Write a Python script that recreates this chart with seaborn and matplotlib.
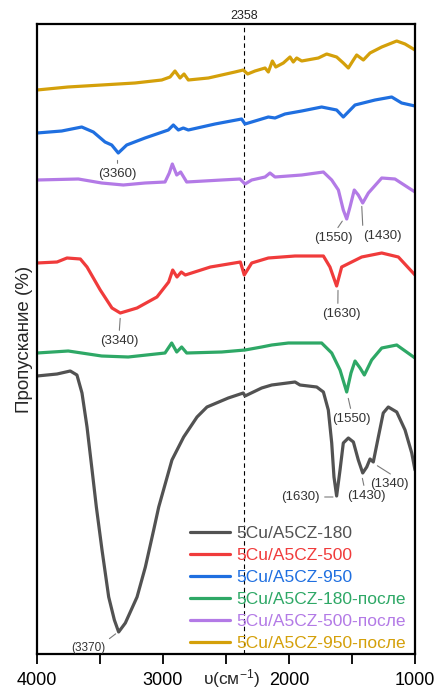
import numpy as np
import pandas as pd
import matplotlib
matplotlib.use('Agg')
import matplotlib.pyplot as plt
import matplotlib.transforms as mtransforms
from matplotlib.ticker import MultipleLocator
import seaborn as sns

# ---------------- data ----------------
labels = ['5Cu/A5CZ-180', '5Cu/A5CZ-500', '5Cu/A5CZ-950',
          '5Cu/A5CZ-180-после', '5Cu/A5CZ-500-после', '5Cu/A5CZ-950-после']
colors = ['#525252', '#f03b3b', '#1f6fe0', '#2ea866', '#b37ae6', '#d4a00a']

wn_180 = [4000, 3841, 3736, 3683, 3643, 3603, 3563, 3529, 3484, 3431, 3386, 3352, 3299, 3206,
          3140, 3074, 3034, 2929, 2836, 2730, 2651, 2482, 2363, 2349, 2217, 2137, 1952, 1913,
          1780, 1727, 1688, 1661, 1643, 1622, 1595, 1569, 1529, 1489, 1450, 1415, 1383, 1357,
          1331, 1291, 1252, 1212, 1145, 1079, 1026, 1000]
t_180 = [279, 281, 284, 280, 262, 228, 185, 148, 105, 58, 35, 23, 32, 58,
         88, 125, 148, 195, 218, 238, 248, 257, 262, 259, 267, 270, 273, 270,
         268, 263, 245, 212, 178, 159, 185, 212, 217, 213, 195, 182, 188, 196,
         193, 218, 242, 248, 243, 225, 202, 185]

wn_500 = [4000, 3841, 3762, 3656, 3603, 3498, 3405, 3339, 3206, 3048, 2955, 2923, 2889, 2855,
          2823, 2624, 2386, 2355, 2296, 2164, 1952, 1727, 1675, 1622, 1582, 1423, 1264, 1132,
          1000]
t_500 = [392, 393, 397, 396, 388, 365, 347, 342, 347, 358, 373, 385, 378, 383,
         380, 388, 393, 380, 392, 397, 399, 399, 388, 369, 388, 398, 402, 398,
         380]

wn_950 = [4000, 3804, 3645, 3553, 3460, 3407, 3355, 3288, 3143, 2958, 2918, 2878, 2839, 2799,
          2587, 2376, 2349, 2296, 2164, 2111, 2032, 1899, 1741, 1622, 1569, 1476, 1317, 1185,
          1106, 1000]
t_950 = [522, 524, 528, 523, 513, 510, 502, 510, 517, 525, 530, 525, 527, 525,
         531, 536, 531, 533, 538, 537, 541, 544, 548, 545, 538, 550, 555, 558,
         552, 549]

wn_180p = [4000, 3752, 3487, 3276, 2984, 2931, 2891, 2852, 2812, 2534, 2349, 2217, 2137, 2005,
           1741, 1661, 1595, 1542, 1508, 1476, 1436, 1402, 1344, 1264, 1145, 1000]
t_180p = [302, 304, 299, 298, 302, 312, 303, 308, 302, 303, 305, 308, 310, 312,
          312, 302, 285, 263, 282, 294, 287, 280, 295, 307, 310, 297]

wn_500p = [4000, 3672, 3487, 3315, 3143, 2984, 2950, 2926, 2891, 2860, 2812, 2534, 2389, 2349,
           2296, 2190, 2151, 2111, 1899, 1727, 1661, 1608, 1569, 1542, 1516, 1482, 1450, 1415,
           1370, 1264, 1159, 1000]
t_500p = [475, 476, 472, 470, 472, 473, 482, 491, 480, 483, 473, 475, 476, 471,
          475, 478, 482, 478, 480, 483, 475, 465, 445, 436, 448, 465, 460, 452,
          462, 477, 476, 463]

wn_950p = [4000, 3754, 3487, 3222, 3010, 2944, 2905, 2865, 2833, 2799, 2640, 2429, 2363, 2328,
           2270, 2190, 2164, 2132, 2105, 2045, 1992, 1966, 1939, 1899, 1767, 1701, 1622, 1569,
           1529, 1489, 1463, 1410, 1357, 1264, 1145, 1079, 1000]
t_950p = [565, 568, 570, 572, 575, 578, 584, 577, 581, 575, 577, 583, 585, 581,
          584, 587, 583, 594, 588, 592, 598, 593, 597, 594, 597, 601, 598, 592,
          587, 595, 600, 595, 602, 608, 614, 611, 605]

marker_wn = 2358

# ---------------- build table ----------------
series = [(wn_180, t_180), (wn_500, t_500), (wn_950, t_950),
          (wn_180p, t_180p), (wn_500p, t_500p), (wn_950p, t_950p)]
frames = [pd.DataFrame({'wn': w, 'T': t, 'sample': n}) for n, (w, t) in zip(labels, series)]
df = pd.concat(frames, ignore_index=True)

sns.set_style('ticks')
plt.rcParams['font.family'] = ['Liberation Sans', 'DejaVu Sans']
plt.rcParams['mathtext.default'] = 'regular'

fig = plt.figure(figsize=(4.38, 6.90), dpi=100)
ax = fig.add_axes([37 / 438, 36 / 690, 378 / 438, 630 / 690])

palette = dict(zip(labels, colors))
sns.lineplot(data=df, x='wn', y='T', hue='sample', hue_order=labels, palette=palette,
             estimator=None, sort=True, lw=2.3, ax=ax)

ax.set_xlim(4000, 1000)
ax.set_ylim(1, 631)
ax.set_yticks([])
ax.xaxis.set_major_locator(MultipleLocator(1000))
ax.xaxis.set_minor_locator(MultipleLocator(500))
ax.tick_params(axis='x', which='both', direction='out', length=7, width=1.3,
               labelsize=13, pad=6, colors='black')
for s in ax.spines.values():
    s.set_visible(True)
    s.set_linewidth(1.6)
    s.set_color('black')

ax.set_ylabel('Пропускание (%)', fontsize=13.5, labelpad=3)
ax.set_xlabel('υ(см$^{-1}$)', fontsize=12.5)
ax.xaxis.set_label_coords(0.516, -0.020)

# dashed marker line
ax.axvline(marker_wn, color='black', ls=(0, (4, 3)), lw=0.8, zorder=1)
trans = mtransforms.blended_transform_factory(ax.transData, ax.transAxes)
ax.text(marker_wn, 1.013, str(marker_wn), transform=trans, ha='center', va='center',
        fontsize=9, color='#222222')

# peak annotations
anns = [
    ('(3360)', (3361, 496), (3361, 487), 'center', 'top', (0.5, 1), 9.5),
    ('(1550)', (1571, 435), (1651, 423), 'center', 'top', (0.55, 1), 9.5),
    ('(1430)', (1423, 450), (1413, 425), 'left', 'top', (0.0, 1), 9.5),
    ('(1630)', (1611, 366), (1582, 347), 'center', 'top', (0.4, 1), 9.5),
    ('(3340)', (3339, 338), (3349, 320), 'center', 'top', (0.5, 1), 9.5),
    ('(1550)', (1532, 258), (1503, 242), 'center', 'top', (0.5, 1), 9.5),
    ('(1630)', (1640, 158), (1754, 158), 'right', 'center', (1, 0.5), 9.5),
    ('(1430)', (1420, 178), (1389, 165), 'center', 'top', (0.47, 1), 9.5),
    ('(1340)', (1308, 190), (1206, 177), 'center', 'top', (0.7, 1), 9.5),
    ('(3370)', (3367, 22), (3460, 13), 'right', 'top', (1, 1), 8.5),
]
for txt, xy, xyt, ha, va, rp, fs in anns:
    ax.annotate(txt, xy=xy, xytext=xyt, ha=ha, va=va, fontsize=fs, color='#333333',
                arrowprops=dict(arrowstyle='-', color='#7a7a7a', lw=0.8,
                                relpos=rp, shrinkA=1, shrinkB=1))

# legend
handles, labs = ax.get_legend_handles_labels()
if ax.get_legend() is not None:
    ax.get_legend().remove()
leg = ax.legend(handles, labs, loc='lower left', bbox_to_anchor=(0.405, 0.004),
                frameon=False, fontsize=12.5, handlelength=2.3, handletextpad=0.35,
                labelspacing=0.4, borderpad=0, borderaxespad=0)
for t, c in zip(leg.get_texts(), colors):
    t.set_color(c)
for l in leg.get_lines():
    l.set_linewidth(2.3)

fig.savefig('out.png', dpi=100)
